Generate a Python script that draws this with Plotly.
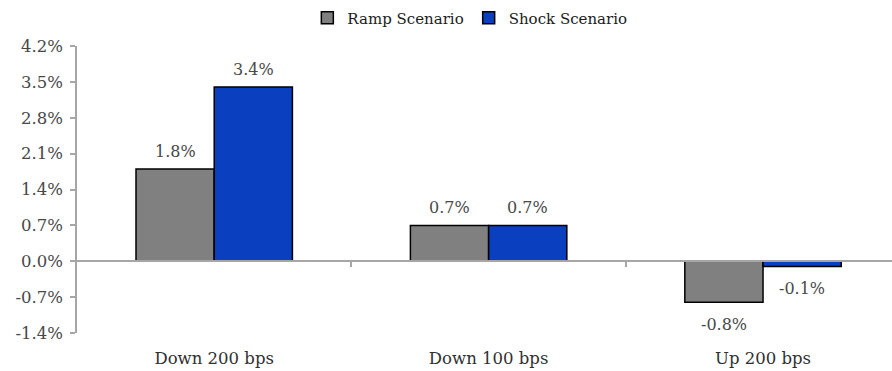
import plotly.graph_objects as go

categories = ["Down 200 bps", "Down 100 bps", "Up 200 bps"]
ramp_values = [1.8, 0.7, -0.8]
shock_values = [3.4, 0.7, -0.1]
series_names = ["Ramp Scenario", "Shock Scenario"]
y_tick_values = [-1.4, -0.7, 0.0, 0.7, 1.4, 2.1, 2.8, 3.5, 4.2]
y_tick_labels = ["-1.4%", "-0.7%", "0.0%", "0.7%", "1.4%", "2.1%", "2.8%", "3.5%", "4.2%"]

FONT = "DejaVu Serif"
GRAY_AX = "#A6A6A6"
TEXT = "#484848"
colors = ["#808080", "#0A3FBF"]
y_range = [-1.4, 4.2]
x_range = [-0.5, 2.47]
bargap = 0.43

W, H = 892, 371
margin = dict(l=77, r=0, t=46, b=38)
plot_w = W - margin["l"] - margin["r"]
px_per_cat = plot_w / (x_range[1] - x_range[0])
bar_w_px = px_per_cat * (1 - bargap) / 2

fig = go.Figure()
all_series = [ramp_values, shock_values]
for i, (name, vals) in enumerate(zip(series_names, all_series)):
    fig.add_trace(go.Bar(
        x=categories, y=vals, name=name,
        marker=dict(color=colors[i], line=dict(color="black", width=1.5)),
    ))

annotations = []
for i, vals in enumerate(all_series):
    for cat, v in zip(categories, vals):
        annotations.append(dict(
            x=cat, y=v, xref="x", yref="y",
            text=f"{v:.1f}%", showarrow=False,
            xshift=(i - 0.5) * bar_w_px,
            yshift=18 if v >= 0 else -22,
            font=dict(family=FONT, size=16, color=TEXT),
        ))

fig.add_trace(go.Scatter(x=[None], y=[None], xaxis="x2", showlegend=False,
                         hoverinfo="skip"))

zero_pos = (0 - y_range[0]) / (y_range[1] - y_range[0])
boundaries = [k + 0.5 for k in range(len(categories) - 1)]

fig.update_layout(
    width=W, height=H,
    margin=margin,
    paper_bgcolor="white", plot_bgcolor="white",
    barmode="group", bargap=bargap, bargroupgap=0,
    annotations=annotations,
    font=dict(family=FONT, size=16, color=TEXT),
    legend=dict(orientation="h", x=0.482, xanchor="center", y=1.0976,
                yanchor="middle", font=dict(family=FONT, size=15, color="#202020"),
                itemwidth=30, traceorder="normal"),
    xaxis=dict(type="category", range=x_range, showline=False, showgrid=False,
               zeroline=False, ticks="outside", ticklen=10, tickcolor="rgba(0,0,0,0)",
               tickfont=dict(family=FONT, size=16.5, color="#303030")),
    xaxis2=dict(overlaying="x", anchor="free", position=zero_pos, type="linear",
                range=x_range, tickvals=boundaries, ticks="outside", ticklen=5,
                tickcolor=GRAY_AX, tickwidth=1.5, showticklabels=False,
                showline=True, linecolor=GRAY_AX, linewidth=1.5,
                showgrid=False, zeroline=False),
    yaxis=dict(range=y_range, tickvals=y_tick_values, ticktext=y_tick_labels,
               showline=True, linecolor=GRAY_AX, linewidth=1.5, ticks="outside",
               ticklen=5, tickcolor=GRAY_AX, tickwidth=1.5, showgrid=False,
               zeroline=False, ticklabelstandoff=4,
               tickfont=dict(family=FONT, size=16.5, color=TEXT)),
)

fig.write_html("out.html")
